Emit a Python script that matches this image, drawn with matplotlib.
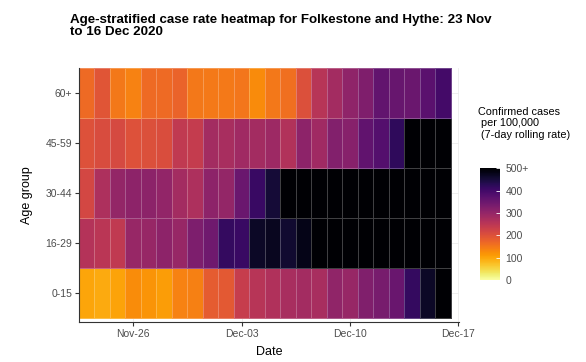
import matplotlib
matplotlib.use("Agg")
import matplotlib.pyplot as plt
import matplotlib.dates as mdates
import numpy as np
import pandas as pd

plt.rcParams['font.family'] = ['Liberation Sans', 'DejaVu Sans']

dates = pd.date_range('2020-11-23', '2020-12-16')
age_groups = ['0-15', '16-29', '30-44', '45-59', '60+']

# 7-day rolling rate per 100,000 (>500 shows as black)
rate_0_15 = [100, 95, 102, 125, 118, 108, 138, 140, 185, 188, 235, 255,
             265, 275, 280, 275, 303, 295, 323, 335, 352, 415, 465, 520]
rate_16_29 = [258, 250, 243, 295, 295, 307, 295, 328, 345, 415, 410, 465,
              472, 458, 480, 505, 530, 560, 590, 610, 620, 600, 580, 560]
rate_30_44 = [215, 268, 300, 307, 310, 302, 280, 268, 307, 300, 350, 410,
              452, 510, 560, 600, 640, 680, 700, 720, 690, 670, 650, 620]
rate_45_59 = [200, 208, 212, 200, 202, 207, 243, 238, 280, 275, 285, 280,
              288, 262, 307, 285, 322, 315, 362, 378, 420, 560, 610, 640]
rate_60_plus = [165, 195, 150, 138, 165, 165, 175, 150, 148, 148, 152, 128,
                150, 160, 203, 255, 280, 305, 325, 360, 355, 350, 370, 398]

rates = np.array([rate_0_15, rate_16_29, rate_30_44, rate_45_59, rate_60_plus])

fig = plt.figure(figsize=(5.86, 3.62), dpi=100)
ax = fig.add_axes([0.1348, 0.1105, 0.6485, 0.7017])

xnum = mdates.date2num(dates)
xedges = np.append(xnum - 0.5, xnum[-1] + 0.5)
yedges = np.arange(len(age_groups) + 1) - 0.5

mesh = ax.pcolormesh(xedges, yedges, rates, cmap='inferno_r', vmin=0, vmax=500,
                     edgecolors=(1, 1, 1, 0.25), linewidth=0.6)

ax.set_xlim(xnum[0] - 0.5, xnum[-1] + 1.05)
ax.set_ylim(-0.58, 4.5)
ax.xaxis.set_major_locator(mdates.DayLocator(bymonthday=[3, 10, 17, 26]))
ax.xaxis.set_major_formatter(mdates.DateFormatter('%b-%d'))
ax.set_yticks(range(len(age_groups)))
ax.set_yticklabels(age_groups)

ax.set_axisbelow(True)
ax.grid(True, color='#EBEBEB', linewidth=0.6)
for s in ['top', 'right']:
    ax.spines[s].set_visible(False)
for s in ['left', 'bottom']:
    ax.spines[s].set_color('#333333')
    ax.spines[s].set_linewidth(0.8)
ax.tick_params(labelsize=7.5, labelcolor='#4D4D4D', length=3, width=0.8,
               color='#333333', pad=2)

ax.set_xlabel('Date', fontsize=9, labelpad=5)
ax.set_ylabel('Age group', fontsize=9, labelpad=9)

fig.text(0.119, 0.96, 'Age-stratified case rate heatmap for Folkestone and Hythe: 23 Nov\nto 16 Dec 2020',
         fontsize=9.6, fontweight='bold', va='top', ha='left', linespacing=0.95)

cax = fig.add_axes([0.819, 0.2265, 0.034, 0.309])
cb = fig.colorbar(mesh, cax=cax, ticks=[0, 100, 200, 300, 400, 500])
cb.ax.set_yticklabels(['0', '100', '200', '300', '400', '500+'])
cb.outline.set_visible(False)
cb.ax.tick_params(labelsize=7.5, labelcolor='#4D4D4D', direction='in',
                  color='white', length=3, width=0.6, pad=4)

fig.text(0.816, 0.705, 'Confirmed cases\n per 100,000\n (7-day rolling rate)',
         fontsize=7.8, va='top', ha='left', linespacing=1.2)

fig.savefig('out.png', dpi=100)
